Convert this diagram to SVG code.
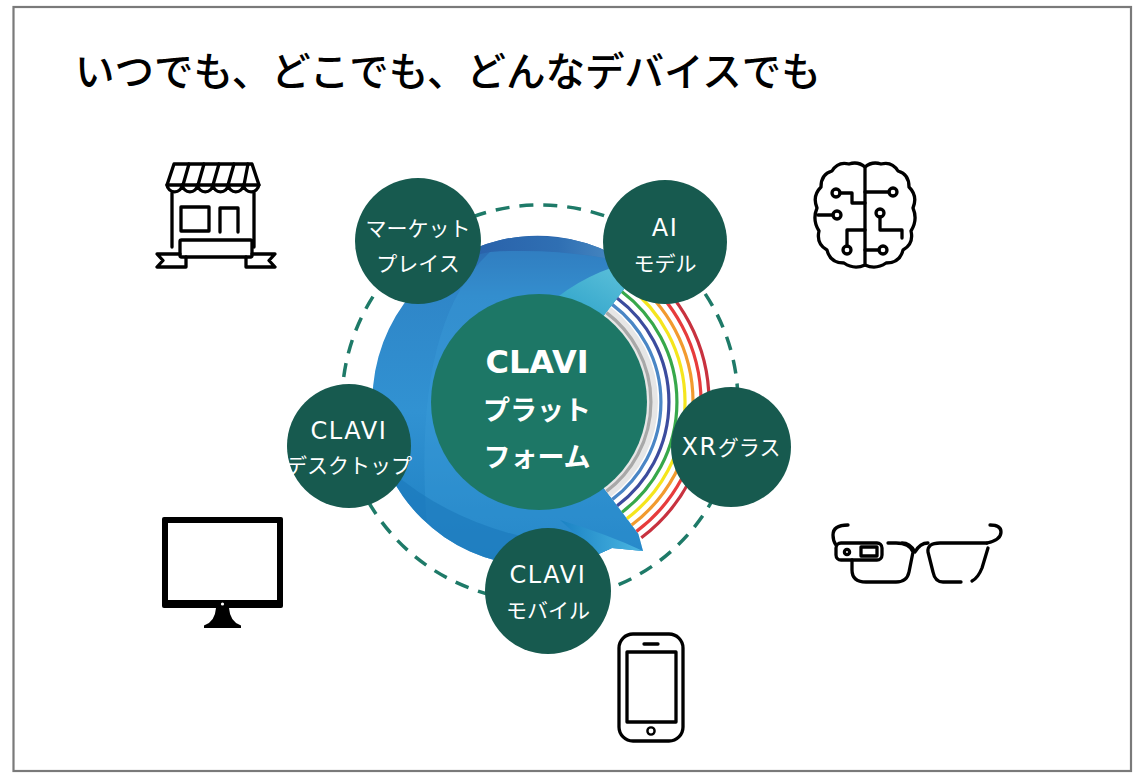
<svg xmlns="http://www.w3.org/2000/svg" width="1136" height="773" viewBox="0 0 1136 773">
  <defs>
    <style>
      .node { fill: #175a4f; }
      .ntxt { fill: #ffffff; font-family: "DejaVu Sans", "Noto Sans CJK JP", sans-serif; font-size: 21px; text-anchor: middle; }
      .lat { font-size: 24px; letter-spacing: 1.6px; }
      .ctxt { fill: #ffffff; font-family: "DejaVu Sans", "Noto Sans CJK JP", sans-serif; font-weight: bold; text-anchor: middle; }
      .icon { fill: none; stroke: #000000; stroke-width: 3.3; stroke-linecap: round; stroke-linejoin: round; }
      .ring { fill: none; stroke-width: 3.2; }
    </style>
    <clipPath id="discClip">
      <path d="M 638.3 533.8 L 643 551 L 612 548 A 165 165 0 1 1 638.3 270.2 L 539 402 Z"/>
    </clipPath>
    <linearGradient id="discFill" x1="0" y1="0" x2="0" y2="1">
      <stop offset="0" stop-color="#2a62aa"/>
      <stop offset="0.2" stop-color="#2f86c8"/>
      <stop offset="0.55" stop-color="#3192d2"/>
      <stop offset="1" stop-color="#1c7ec1"/>
    </linearGradient>
    <linearGradient id="topBand" x1="0" y1="0" x2="1" y2="0">
      <stop offset="0" stop-color="#2557a3"/>
      <stop offset="0.6" stop-color="#2f6fb3"/>
      <stop offset="1" stop-color="#5a9bcc"/>
    </linearGradient>
    <linearGradient id="cyan" x1="0" y1="1" x2="1" y2="0">
      <stop offset="0" stop-color="#2aa0c8"/>
      <stop offset="1" stop-color="#69c8de"/>
    </linearGradient>
    <linearGradient id="tip" x1="0" y1="0" x2="1" y2="0">
      <stop offset="0" stop-color="#1b82c4"/>
      <stop offset="1" stop-color="#4cb8e2"/>
    </linearGradient>
  </defs>

  <rect x="0" y="0" width="1136" height="773" fill="#ffffff"/>
  <rect x="13.5" y="7" width="1117.5" height="764" fill="none" stroke="#7a7a7a" stroke-width="2.2"/>

  <text x="75" y="86" font-family="'Noto Sans CJK JP', sans-serif" font-size="39.5" font-weight="500" fill="#000000">いつでも、どこでも、どんなデバイスでも</text>

  <!-- orbit -->
  <circle cx="540" cy="403" r="198" fill="none" stroke="#1e7a68" stroke-width="3.5" stroke-dasharray="14 10"/>

  <!-- blue disc behind the platform -->
  <g id="disc" clip-path="url(#discClip)">
    <rect x="360" y="230" width="300" height="330" fill="url(#discFill)"/>
    <path d="M 420 250 Q 520 220 660 255 L 660 272 Q 580 246 490 252 Q 440 262 405 290 Z" fill="url(#topBand)"/>
    <path d="M 490 252 Q 580 246 660 272 L 660 560 L 430 560 Q 405 330 490 252 Z" fill="#3d9fdb" opacity="0.35"/>
    <path d="M 548 305 Q 590 268 650 258 L 650 300 L 610 318 Z" fill="url(#cyan)"/>
    <path d="M 390 470 Q 470 540 600 548 L 650 552 L 650 560 L 380 560 Z" fill="#1a78bb" opacity="0.6"/>
    <path d="M 560 520 Q 610 535 645 552 L 600 556 Z" fill="url(#tip)"/>
  </g>

  <!-- colour rings on the right -->
  <g id="rings">
    <path d="M 610.6 307 A 119 119 0 0 1 610.6 497 L 603.4 487.5 A 107 107 0 0 0 603.4 316.5 Z" fill="#e6e6e6"/>
    <path class="ring" stroke="#a8a8a8" d="M 606.4 312.6 A 112 112 0 0 1 606.4 491.4"/>
    <path class="ring" stroke="#4a86c5" d="M 612.4 304.6 A 122 122 0 0 1 612.4 499.4"/>
    <path class="ring" stroke="#3c4c9e" d="M 617.2 298.2 A 130 130 0 0 1 617.2 505.8"/>
    <path class="ring" stroke="#37a84a" d="M 622.0 291.8 A 138 138 0 0 1 622.0 512.2"/>
    <path class="ring" stroke="#f5e51d" d="M 626.9 285.4 A 146 146 0 0 1 626.9 518.6"/>
    <path class="ring" stroke="#f29a2e" d="M 631.7 279.0 A 154 154 0 0 1 631.7 525.0"/>
    <path class="ring" stroke="#e73c3c" d="M 636.5 272.6 A 162 162 0 0 1 636.5 531.4"/>
    <path class="ring" stroke="#c8323f" d="M 641.3 266.2 A 170 170 0 0 1 641.3 537.8"/>
  </g>

  <g id="platform">
    <circle cx="539" cy="402" r="108" fill="#1d7766"/>
    <text class="ctxt" x="537" y="373" font-size="32">CLAVI</text>
    <text class="ctxt" x="537" y="420" font-size="27">プラット</text>
    <text class="ctxt" x="537" y="467" font-size="27">フォーム</text>
  </g>

  <g id="node-market">
    <circle class="node" cx="418" cy="241" r="63"/>
    <text class="ntxt" x="418" y="236">マーケット</text>
    <text class="ntxt" x="418" y="271">プレイス</text>
  </g>
  <g id="node-ai">
    <circle class="node" cx="665" cy="242" r="62"/>
    <text class="ntxt lat" x="665" y="236">AI</text>
    <text class="ntxt" x="665" y="271">モデル</text>
  </g>
  <g id="node-xr">
    <circle class="node" cx="731" cy="447" r="60"/>
    <text class="ntxt" x="731" y="455"><tspan class="lat">XR</tspan>グラス</text>
  </g>
  <g id="node-desktop">
    <circle class="node" cx="349" cy="446" r="62"/>
    <text class="ntxt lat" x="349" y="439">CLAVI</text>
    <text class="ntxt" x="349" y="473">デスクトップ</text>
  </g>
  <g id="node-mobile">
    <circle class="node" cx="548" cy="591" r="63"/>
    <text class="ntxt lat" x="548" y="583">CLAVI</text>
    <text class="ntxt" x="548" y="618">モバイル</text>
  </g>

  <!-- device icons -->
  <g id="icon-store" class="icon">
    <path d="M 174 164 L 252 164 L 259 185 L 167 185 Z"/>
    <path d="M 189 164 L 183 185 M 204 164 L 198 185 M 219 164 L 213 185 M 234 164 L 228 185 M 248 164 L 244 185"/>
    <path d="M 167 185 a 7.7 7.7 0 0 0 15.3 0 a 7.7 7.7 0 0 0 15.3 0 a 7.7 7.7 0 0 0 15.3 0 a 7.7 7.7 0 0 0 15.3 0 a 7.7 7.7 0 0 0 15.3 0 a 7.7 7.7 0 0 0 15.3 0"/>
    <path d="M 172 193 L 172 247 M 254 193 L 254 247"/>
    <rect x="181" y="207" width="28" height="24"/>
    <path d="M 220 232 L 220 208 L 238 208 L 238 232"/>
    <rect x="180" y="240" width="72" height="17" rx="1.5"/>
    <path d="M 180 254 L 157 254 L 163 260.5 L 157 267 L 186 267 L 186 257"/>
    <path d="M 252 254 L 275 254 L 269 260.5 L 275 267 L 246 267 L 246 257"/>
  </g>

  <g id="icon-brain" class="icon">
    <path d="M 865 167 Q 858 161 849 164 Q 838 161 832 171 Q 821 174 821 187 Q 812 196 817 208 Q 812 220 819 231 Q 816 244 827 250 Q 830 263 844 263 Q 854 270 865 265 Z"/>
    <path d="M 865 167 Q 872 161 881 164 Q 892 161 898 171 Q 909 174 909 187 Q 918 196 913 208 Q 918 220 911 231 Q 914 244 903 250 Q 900 263 886 263 Q 876 270 865 265"/>
    <path d="M 840 193 L 852 193 L 852 203 L 865 203"/>
    <circle cx="836" cy="193" r="4"/>
    <path d="M 833 215 L 818 215"/>
    <circle cx="837" cy="215" r="4"/>
    <path d="M 847 246 L 847 230 L 865 230"/>
    <circle cx="847" cy="250" r="4"/>
    <path d="M 889 192 L 865 192"/>
    <circle cx="893" cy="192" r="4"/>
    <path d="M 880 217 L 880 230 L 902 230 L 902 238"/>
    <circle cx="880" cy="213" r="4"/>
    <path d="M 879 250 L 865 250"/>
    <circle cx="883" cy="250" r="4"/>
  </g>

  <g id="icon-monitor">
    <rect x="162" y="517" width="121" height="91" rx="2" fill="#000000"/>
    <rect x="168" y="523" width="109" height="77" fill="#ffffff"/>
    <circle cx="222.5" cy="604" r="1.6" fill="#ffffff"/>
    <path d="M 216 608 L 229 608 Q 230 622 241 625.5 L 241 628 L 204 628 L 204 625.5 Q 215 622 216 608 Z" fill="#000000"/>
  </g>

  <g id="icon-glasses" class="icon" stroke-width="3.6">
    <path d="M 848 525 Q 833 525 833 535 Q 833 541 836 545"/>
    <rect x="836" y="543" width="46" height="17" rx="5"/>
    <circle cx="847" cy="552" r="2.6"/>
    <rect x="861" y="547" width="16" height="9"/>
    <path d="M 852 560 L 852 570 Q 852 582 866 582 L 896 582 Q 907 582 909 572 L 913 552 Q 910 543 896 543 L 888 543"/>
    <path d="M 902 543 Q 910 543 915 552 Q 920 543 928 543"/>
    <path d="M 961 582 L 943 582 Q 935 582 933 572 L 928 552 Q 927 543 940 543 L 987 543"/>
    <path d="M 988 548 L 982 568 Q 978 578 972 581"/>
    <path d="M 987 543 Q 1001 540 1001 532 Q 1001 525 990 525"/>
  </g>

  <g id="icon-phone" class="icon" stroke-width="2.8">
    <rect x="619" y="634" width="64" height="107" rx="14"/>
    <rect x="627" y="652" width="49" height="70"/>
    <path d="M 644 644 L 658 644"/>
    <circle cx="651" cy="731" r="3.6" stroke-width="2.4"/>
  </g>
</svg>
